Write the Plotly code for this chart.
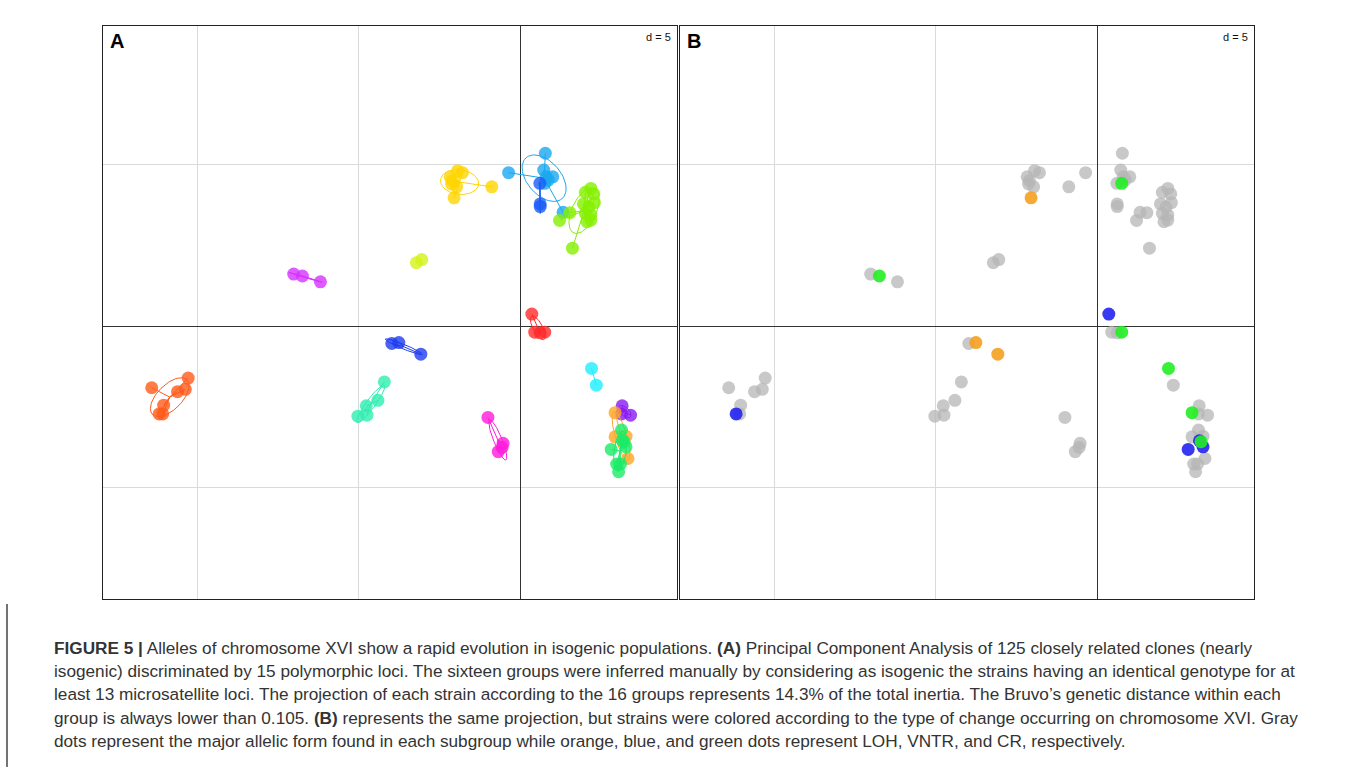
import numpy as np
import plotly.graph_objects as go

# ---------------- data (PCA coordinates, grid step d = 5) ----------------
group_colors = ["#D633FF", "#D4F21A", "#FFD500", "#1AA7F0", "#1A5CF5",
                "#85F000", "#FF2A2A", "#FF5A1A", "#1F3CF0", "#2EEDB0",
                "#FF1ADB", "#1AF0FF", "#8A1AF0", "#FFA526", "#1AEB66"]

pc1 = [-7.02, -6.75, -6.19,
       -3.22, -3.05,
       -2.17, -1.94, -1.79, -2.13, -1.97, -2.05, -0.88, -2.10,
       0.78, -0.36, 0.73, 0.81, 1.01, 0.76, 0.87, 1.33,
       0.61, 0.62, 0.62,
       2.02, 2.19, 2.28, 2.30, 1.96, 2.13, 2.02, 2.19, 2.07, 2.19, 1.54, 1.22, 1.62,
       0.36, 0.45, 0.76, 0.62,
       -11.42, -10.29, -10.38, -10.62, -11.05, -11.19, -11.08,
       -3.98, -3.76, -3.08,
       -4.21, -4.41, -4.77, -4.75, -5.03,
       -1.00, -0.53, -0.56, -0.68,
       2.21, 2.36,
       3.16, 3.14, 3.42,
       2.94, 2.94, 3.28, 3.34,
       3.14, 3.17, 3.22, 3.28, 2.82, 2.99, 3.11, 3.05]

pc2 = [1.61, 1.55, 1.37,
       1.96, 2.06,
       4.62, 4.81, 4.75, 4.40, 4.31, 3.97, 4.31, 4.50,
       5.35, 4.75, 4.83, 4.62, 4.62, 4.42, 4.52, 3.52,
       4.42, 3.78, 3.70,
       4.14, 4.26, 4.09, 3.82, 3.78, 3.69, 3.49, 3.44, 3.23, 3.28, 3.51, 3.27, 2.41,
       0.37, -0.19, -0.19, -0.21,
       -1.91, -1.61, -1.96, -2.03, -2.45, -2.72, -2.72,
       -0.54, -0.51, -0.87,
       -1.73, -2.30, -2.47, -2.76, -2.79,
       -2.83, -3.63, -3.76, -3.89,
       -1.31, -1.83,
       -2.47, -2.72, -2.76,
       -2.68, -3.43, -3.41, -4.10,
       -3.22, -3.55, -3.58, -3.74, -3.82, -4.27, -4.27, -4.51]

group = [0, 0, 0,
         1, 1,
         2, 2, 2, 2, 2, 2, 2, 2,
         3, 3, 3, 3, 3, 3, 3, 3,
         4, 4, 4,
         5, 5, 5, 5, 5, 5, 5, 5, 5, 5, 5, 5, 5,
         6, 6, 6, 6,
         7, 7, 7, 7, 7, 7, 7,
         8, 8, 8,
         9, 9, 9, 9, 9,
         10, 10, 10, 10,
         11, 11,
         12, 12, 12,
         13, 13, 13, 13,
         14, 14, 14, 14, 14, 14, 14, 14]

# type of change on chromosome XVI (panel B)
change = ["major", "CR", "major",
          "major", "major",
          "major", "major", "major", "major", "major", "LOH", "major", "major",
          "major", "major", "major", "major", "major", "CR", "major", "major",
          "major", "major", "major",
          "major", "major", "major", "major", "major", "major", "major", "major", "major", "major", "major", "major", "major",
          "VNTR", "major", "CR", "major",
          "major", "major", "major", "major", "major", "VNTR", "major",
          "major", "LOH", "LOH",
          "major", "major", "major", "major", "major",
          "major", "major", "major", "major",
          "CR", "major",
          "major", "major", "major",
          "CR", "major", "major", "major",
          "major", "VNTR", "CR", "VNTR", "VNTR", "major", "major", "major"]

change_types = ["major", "LOH", "VNTR", "CR"]
change_colors = {"major": "#B5B5B5", "LOH": "#F5A11F", "VNTR": "#2424F0", "CR": "#22EE22"}

caption_lines = [
    "<b>FIGURE 5 |</b> Alleles of chromosome XVI show a rapid evolution in isogenic populations. <b>(A)</b> Principal Component Analysis of 125 closely related clones (nearly",
    "isogenic) discriminated by 15 polymorphic loci. The sixteen groups were inferred manually by considering as isogenic the strains having an identical genotype for at",
    "least 13 microsatellite loci. The projection of each strain according to the 16 groups represents 14.3% of the total inertia. The Bruvo\u2019s genetic distance within each",
    "group is always lower than 0.105. <b>(B)</b> represents the same projection, but strains were colored according to the type of change occurring on chromosome XVI. Gray",
    "dots represent the major allelic form found in each subgroup while orange, blue, and green dots represent LOH, VNTR, and CR, respectively.",
]

# ---------------- figure ----------------
W, H = 1358, 767
X_RANGE = [-12.93, 4.86]
Y_RANGE = [-8.45, 9.29]

pc1 = np.array(pc1)
pc2 = np.array(pc2)
group = np.array(group)

fig = go.Figure()


def ellipse(xs, ys, k=1.5, n=80):
    mx, my = xs.mean(), ys.mean()
    cov = np.cov(np.vstack([xs, ys]), bias=True)
    vals, vecs = np.linalg.eigh(cov)
    vals = np.clip(vals, 0, None)
    t = np.linspace(0, 2 * np.pi, n)
    pts = (k * np.sqrt(vals[0]) * np.outer(np.cos(t), vecs[:, 0]) +
           k * np.sqrt(vals[1]) * np.outer(np.sin(t), vecs[:, 1]))
    return mx + pts[:, 0], my + pts[:, 1]


# Panel A: star lines, ellipses, points
for g, col in enumerate(group_colors):
    m = group == g
    xs, ys = pc1[m], pc2[m]
    cx, cy = xs.mean(), ys.mean()
    sx, sy = [], []
    for x, y in zip(xs, ys):
        sx += [cx, x, None]
        sy += [cy, y, None]
    fig.add_trace(go.Scatter(x=sx, y=sy, mode="lines", line=dict(color=col, width=1),
                             xaxis="x", yaxis="y", hoverinfo="skip", showlegend=False))
    if len(xs) >= 3:
        ex, ey = ellipse(xs, ys)
        fig.add_trace(go.Scatter(x=ex, y=ey, mode="lines", line=dict(color=col, width=1),
                                 xaxis="x", yaxis="y", hoverinfo="skip", showlegend=False))
    fig.add_trace(go.Scatter(x=xs, y=ys, mode="markers",
                             marker=dict(color=col, size=13, opacity=0.8, line=dict(width=0)),
                             xaxis="x", yaxis="y", showlegend=False))

# Panel B: points colored by type of change
chg = np.array(change)
for ct in change_types:
    m = chg == ct
    fig.add_trace(go.Scatter(x=pc1[m], y=pc2[m], mode="markers",
                             marker=dict(color=change_colors[ct], size=13,
                                         opacity=0.75 if ct == "major" else 0.9, line=dict(width=0)),
                             xaxis="x2", yaxis="y2", showlegend=False, name=ct))


def px_x(p):
    return p / W


def px_y(p):
    return 1 - p / H


axis_common = dict(showticklabels=False, ticks="", tick0=0, dtick=5,
                   showgrid=True, gridcolor="#DADADA", gridwidth=1,
                   zeroline=True, zerolinecolor="#333333", zerolinewidth=1,
                   showline=True, mirror=True, linecolor="#222222", linewidth=1,
                   fixedrange=True)

fig.update_layout(
    width=W, height=H, autosize=False,
    margin=dict(l=0, r=0, t=0, b=0),
    paper_bgcolor="white", plot_bgcolor="white",
    font=dict(family="Liberation Sans, Arial, sans-serif", color="#333333"),
    xaxis=dict(domain=[px_x(103), px_x(677)], range=X_RANGE, anchor="y", **axis_common),
    yaxis=dict(domain=[px_y(599), px_y(26)], range=Y_RANGE, anchor="x", **axis_common),
    xaxis2=dict(domain=[px_x(680), px_x(1254)], range=X_RANGE, anchor="y2", **axis_common),
    yaxis2=dict(domain=[px_y(599), px_y(26)], range=Y_RANGE, anchor="x2", **axis_common),
)

annotations = []
for lab, xr, yr in [("A", "x domain", "y domain"), ("B", "x2 domain", "y2 domain")]:
    annotations.append(dict(text="<b>" + lab + "</b>", xref=xr, yref=yr, x=0.009, y=0.997,
                            xanchor="left", yanchor="top", showarrow=False,
                            font=dict(size=20, color="#000000", family="Liberation Sans, Arial")))
    annotations.append(dict(text="d = 5", xref=xr, yref=yr, x=0.993, y=0.995,
                            xanchor="right", yanchor="top", showarrow=False,
                            font=dict(size=11, color="#111111", family="Liberation Sans, Arial")))

line_y = [648, 671, 694, 718, 741]
for txt, yy in zip(caption_lines, line_y):
    annotations.append(dict(text=txt, xref="paper", yref="paper", x=px_x(52), y=px_y(yy),
                            xanchor="left", yanchor="middle", showarrow=False, align="left",
                            font=dict(size=17.2, color="#333333", family="Liberation Sans, Arial")))
fig.update_layout(annotations=annotations)

fig.add_shape(type="line", xref="paper", yref="paper", x0=px_x(7), x1=px_x(7),
              y0=px_y(604), y1=px_y(767), line=dict(color="#444444", width=1.5))

fig.write_html("out.html", config={"displayModeBar": False},
               post_script="document.body.style.margin='0';document.body.style.overflow='hidden';")
